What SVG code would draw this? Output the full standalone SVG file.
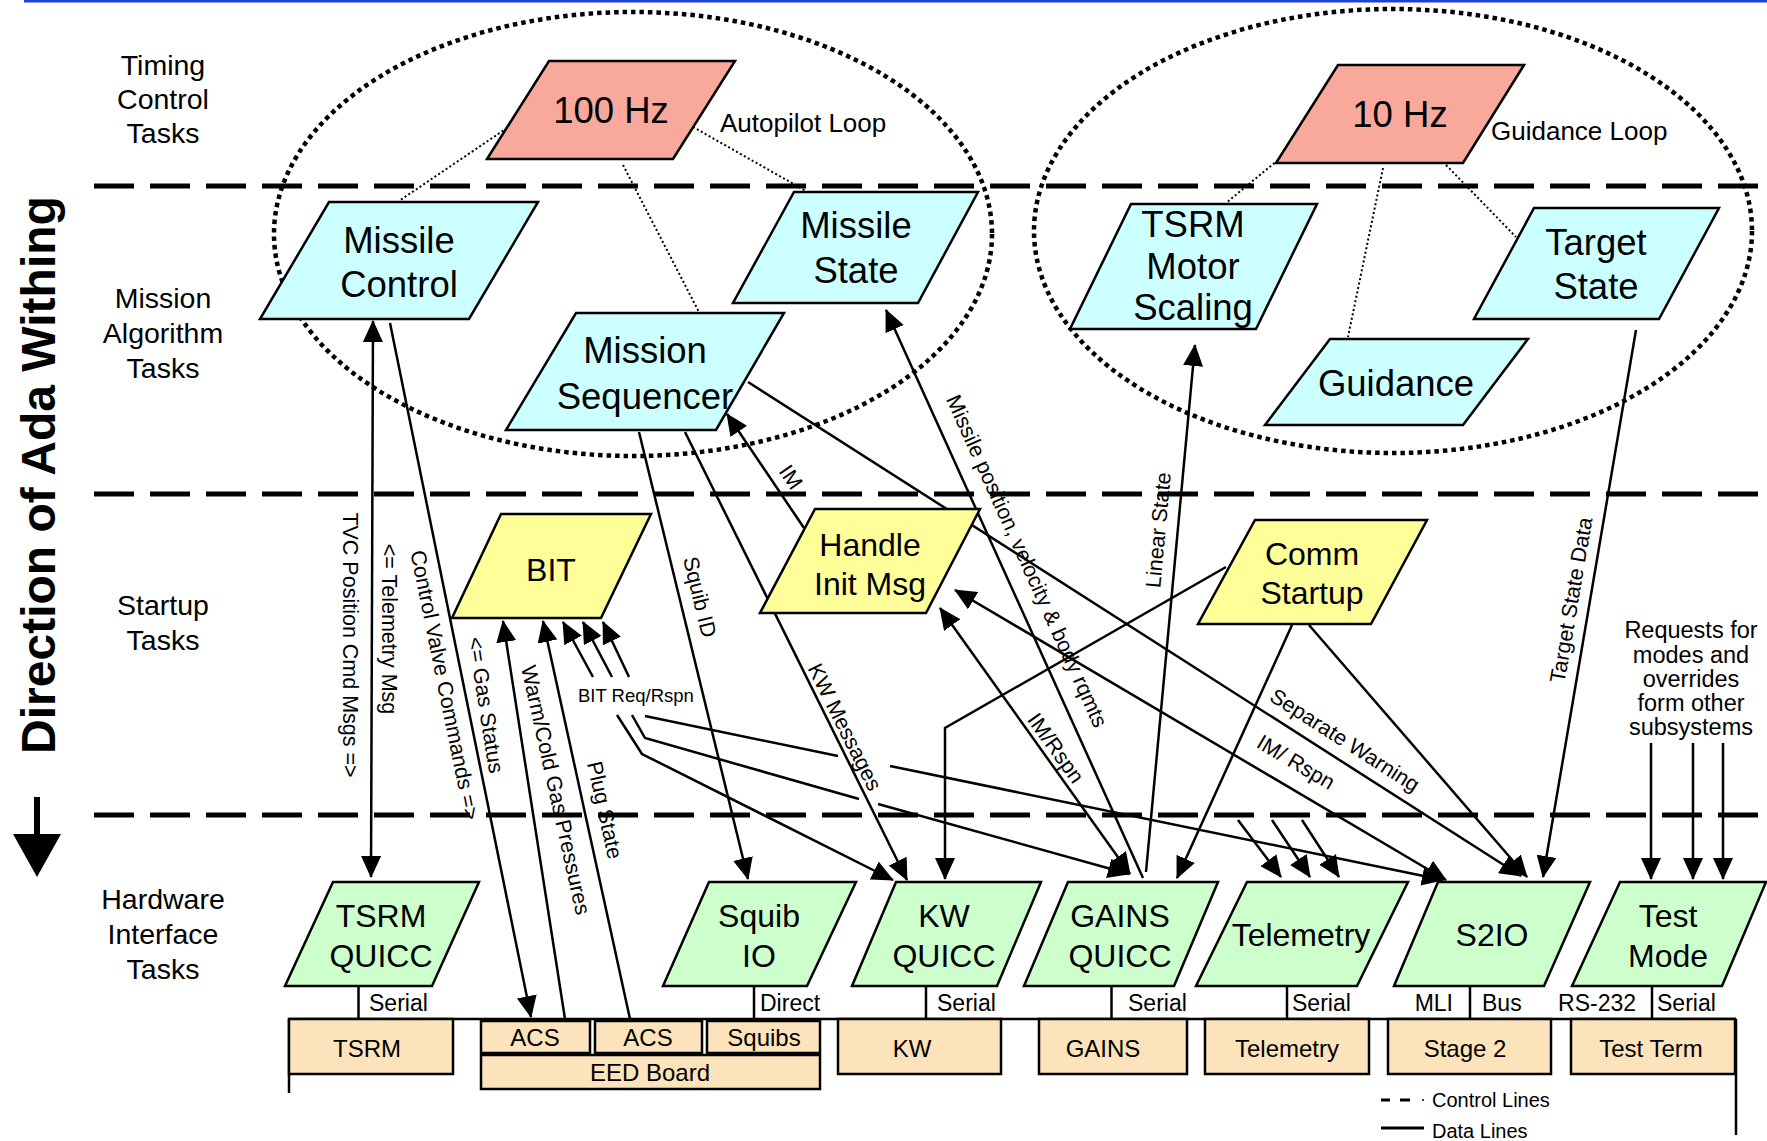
<svg xmlns="http://www.w3.org/2000/svg" width="1767" height="1141" viewBox="0 0 1767 1141">
  <defs>
    <style>
      text { font-family: "Liberation Sans", Arial, sans-serif; fill: #000; }
      .lane { stroke: #000; stroke-width: 5; stroke-dasharray: 40 16; fill: none; }
      .loop { fill: none; stroke: #000; stroke-width: 4.5; stroke-dasharray: 4.5 4; }
      .tick { fill: none; stroke: #000; stroke-width: 2; stroke-dasharray: 2 2.5; }
      .flow { fill: none; stroke: #000; stroke-width: 2.5; }
      .arr { marker-end: url(#head); }
      .both { marker-start: url(#head); marker-end: url(#head); }
      .shape { stroke: #000; stroke-width: 2.5; stroke-linejoin: miter; }
      .timing { fill: #F8A99B; }
      .algo { fill: #CCFFFF; }
      .startup { fill: #FFFF99; }
      .hw { fill: #CCFFCC; }
      .box { fill: #FCE3BB; stroke: #000; stroke-width: 2.5; }
      .big { font-size: 36.5px; text-anchor: middle; }
      .mid { font-size: 32px; text-anchor: middle; }
      .lbl { font-size: 28.5px; text-anchor: middle; }
      .sm { font-size: 24px; text-anchor: middle; }
      .port { font-size: 23px; }
      .msg { font-size: 21.5px; text-anchor: middle; }
      .loopname { font-size: 26px; }
      .legend { font-size: 20px; }
    </style>
    <marker id="head" markerUnits="userSpaceOnUse" viewBox="0 0 22 20" markerWidth="22" markerHeight="20" refX="21" refY="10" orient="auto-start-reverse">
      <path d="M0,0 L22,10 L0,20 z" fill="#000"/>
    </marker>
  </defs>

  <rect width="1767" height="1141" fill="#fff"/>
  <!-- title rule -->
  <line x1="24" y1="1" x2="1767" y2="1" stroke="#1E3FDC" stroke-width="3"/>

  <!-- layer separators -->
  <g id="lanes">
    <line class="lane" x1="94" y1="186" x2="1767" y2="186"/>
    <line class="lane" x1="94" y1="494" x2="1767" y2="494"/>
    <line class="lane" x1="94" y1="815" x2="1767" y2="815"/>
  </g>

  <!-- layer names -->
  <g id="layer-labels" class="lbl">
    <text x="163" y="75">Timing</text>
    <text x="163" y="109">Control</text>
    <text x="163" y="143">Tasks</text>
    <text x="163" y="308">Mission</text>
    <text x="163" y="343">Algorithm</text>
    <text x="163" y="378">Tasks</text>
    <text x="163" y="615">Startup</text>
    <text x="163" y="650">Tasks</text>
    <text x="163" y="909">Hardware</text>
    <text x="163" y="944">Interface</text>
    <text x="163" y="979">Tasks</text>
  </g>

  <g id="direction">
    <text transform="translate(38,475) rotate(-90)" dy="0.36em" font-size="48" font-weight="bold" text-anchor="middle">Direction of Ada Withing</text>
    <line x1="37" y1="797" x2="37" y2="838" stroke="#000" stroke-width="6"/>
    <polygon points="13,834 61,834 37,877" fill="#000"/>
  </g>

  <!-- rate group loops -->
  <g id="loops">
    <ellipse class="loop" cx="633" cy="234" rx="359" ry="222"/>
    <ellipse class="loop" cx="1393" cy="231" rx="359" ry="222"/>
    <text class="loopname" x="720" y="132">Autopilot Loop</text>
    <text class="loopname" x="1491" y="140">Guidance Loop</text>
  </g>

  <!-- timing links -->
  <g id="timing-links">
    <line class="tick" x1="507" y1="128" x2="399" y2="201"/>
    <line class="tick" x1="693" y1="127" x2="806" y2="191"/>
    <line class="tick" x1="623" y1="165" x2="699" y2="312"/>
    <line class="tick" x1="1278" y1="160" x2="1226" y2="203"/>
    <line class="tick" x1="1383" y1="168" x2="1348" y2="337"/>
    <line class="tick" x1="1446" y1="165" x2="1516" y2="237"/>
  </g>

  <!-- data flows -->
  <g id="connectors">
    <path id="c-tvc" class="flow both" d="M373,321 L371,877"/>
    <path id="c-valve" class="flow arr" d="M390,323 L531,1017"/>
    <path id="c-gas" class="flow arr" d="M565,1019 L503,621"/>
    <path id="c-warm" class="flow arr" d="M630,1019 L543,621"/>
    <path id="c-bit1" class="flow arr" d="M593,677 L563,622"/>
    <path id="c-bit2" class="flow arr" d="M612,677 L583,622"/>
    <path id="c-bit3" class="flow arr" d="M629,677 L603,622"/>
    <path id="c-bitkw" class="flow arr" d="M617,715 L642,754 L893,880"/>
    <path id="c-bitgains-a" class="flow" d="M632,715 L645,738 L859,799"/>
    <path id="c-bitgains-b" class="flow arr" d="M878,804 L1129,874"/>
    <path id="c-bits2io-a" class="flow" d="M645,716 L838,756"/>
    <path id="c-bits2io-b" class="flow arr" d="M890,766 L1443,880"/>
    <path id="c-squib" class="flow arr" d="M639,432 L748,879"/>
    <path id="c-kw" class="flow arr" d="M685,432 L907,880"/>
    <path id="c-im" class="flow arr" d="M804,528 L727,414"/>
    <path id="c-mstate" class="flow arr" d="M1143,878 L886,310"/>
    <path id="c-linear" class="flow arr" d="M1146,872 L1195,345"/>
    <path id="c-imgains" class="flow both" d="M940,608 L1130,874"/>
    <path id="c-ims2io" class="flow both" d="M955,590 L1446,880"/>
    <path id="c-warn" class="flow arr" d="M748,382 L1521,876"/>
    <path id="c-commkw" class="flow arr" d="M1226,567 L945,728 L945,879"/>
    <path id="c-commgains" class="flow arr" d="M1292,625 L1177,878"/>
    <path id="c-comms2io" class="flow arr" d="M1309,625 L1527,877"/>
    <path id="c-target" class="flow arr" d="M1636,330 L1543,877"/>
    <path id="c-tlm1" class="flow arr" d="M1238,820 L1281,877"/>
    <path id="c-tlm2" class="flow arr" d="M1272,820 L1310,877"/>
    <path id="c-tlm3" class="flow arr" d="M1302,820 L1339,877"/>
    <path id="c-req1" class="flow arr" d="M1651,743 L1651,879"/>
    <path id="c-req2" class="flow arr" d="M1693,743 L1693,879"/>
    <path id="c-req3" class="flow arr" d="M1723,743 L1723,879"/>
  </g>

  <!-- flow labels -->
  <g id="connector-labels" class="msg">
    <text transform="translate(351,645) rotate(90)" dy="0.35em">TVC Position Cmd Msgs =&gt;</text>
    <text transform="translate(390,629) rotate(90)" dy="0.35em">&lt;= Telemetry Msg</text>
    <text transform="translate(445,685) rotate(78.5)" dy="0.35em">Control Valve Commands =&gt;</text>
    <text transform="translate(486,705) rotate(81)" dy="0.35em">&lt;= Gas Status</text>
    <text transform="translate(556,790) rotate(77.5)" dy="0.35em">Warm/Cold Gas Pressures</text>
    <text transform="translate(605,810) rotate(77.5)" dy="0.35em">Plug State</text>
    <text transform="translate(700,597) rotate(76.3)" dy="0.35em">Squib ID</text>
    <text transform="translate(845,727) rotate(63.5)" dy="0.35em">KW Messages</text>
    <text transform="translate(791,477) rotate(56)" dy="0.35em">IM</text>
    <text transform="translate(1027,561) rotate(65.7)" dy="0.35em">Missile position, velocity &amp; body rqmts</text>
    <text transform="translate(1158,530) rotate(-84.7)" dy="0.35em">Linear State</text>
    <text transform="translate(1056,748) rotate(54.4)" dy="0.35em">IM/Rspn</text>
    <text transform="translate(1296,762) rotate(30.6)" dy="0.35em">IM/ Rspn</text>
    <text transform="translate(1345,740) rotate(32.6)" dy="0.35em">Separate Warning</text>
    <text transform="translate(1571,600) rotate(-80.3)" dy="0.35em">Target State Data</text>
    <text x="578" y="702" font-size="18.5" text-anchor="start">BIT Req/Rspn</text>
  </g>
  <g id="requests-note" font-size="23.5" text-anchor="middle">
    <text x="1691" y="638">Requests for</text>
    <text x="1691" y="663">modes and</text>
    <text x="1691" y="687">overrides</text>
    <text x="1691" y="711">form other</text>
    <text x="1691" y="735">subsystems</text>
  </g>

  <!-- timing control tasks -->
  <g id="n-100hz">
    <polygon class="shape timing" points="549,61 735,61 673,159 487,159"/>
    <text class="big" x="611" y="123" font-size="37">100 Hz</text>
  </g>
  <g id="n-10hz">
    <polygon class="shape timing" points="1338,65 1524,65 1463,163 1276,163"/>
    <text class="big" x="1400" y="127">10 Hz</text>
  </g>

  <!-- mission algorithm tasks -->
  <g id="n-missile-control">
    <polygon class="shape algo" points="329,202 538,202 469,319 260,319"/>
    <text class="big" x="399" y="253">Missile</text>
    <text class="big" x="399" y="297">Control</text>
  </g>
  <g id="n-missile-state">
    <polygon class="shape algo" points="794,192 978,192 918,303 733,303"/>
    <text class="big" x="856" y="238">Missile</text>
    <text class="big" x="856" y="283">State</text>
  </g>
  <g id="n-mission-sequencer">
    <polygon class="shape algo" points="576,313 784,313 716,430 506,430"/>
    <text class="big" x="645" y="363">Mission</text>
    <text class="big" x="645" y="409">Sequencer</text>
  </g>
  <g id="n-tsrm-motor-scaling">
    <polygon class="shape algo" points="1131,204 1317,204 1256,329 1070,329"/>
    <text class="big" x="1193" y="237">TSRM</text>
    <text class="big" x="1193" y="279">Motor</text>
    <text class="big" x="1193" y="320">Scaling</text>
  </g>
  <g id="n-target-state">
    <polygon class="shape algo" points="1534,208 1719,208 1659,319 1474,319"/>
    <text class="big" x="1596" y="255">Target</text>
    <text class="big" x="1596" y="299">State</text>
  </g>
  <g id="n-guidance">
    <polygon class="shape algo" points="1330,339 1528,339 1463,425 1265,425"/>
    <text class="big" x="1396" y="396">Guidance</text>
  </g>

  <!-- startup tasks -->
  <g id="n-bit">
    <polygon class="shape startup" points="501,514 651,514 601,618 452,618"/>
    <text class="mid" x="551" y="581" font-size="38">BIT</text>
  </g>
  <g id="n-handle-init-msg">
    <polygon class="shape startup" points="815,509 980,509 926,613 760,613"/>
    <text class="mid" x="870" y="556">Handle</text>
    <text class="mid" x="870" y="595">Init Msg</text>
  </g>
  <g id="n-comm-startup">
    <polygon class="shape startup" points="1255,520 1427,520 1371,624 1198,624"/>
    <text class="mid" x="1312" y="565">Comm</text>
    <text class="mid" x="1312" y="604">Startup</text>
  </g>

  <!-- hardware interface tasks -->
  <g id="n-tsrm-quicc">
    <polygon class="shape hw" points="333,882 479,882 432,986 285,986"/>
    <text class="mid" x="381" y="927">TSRM</text>
    <text class="mid" x="381" y="967">QUICC</text>
  </g>
  <g id="n-squib-io">
    <polygon class="shape hw" points="709,882 856,882 807,986 663,986"/>
    <text class="mid" x="759" y="927">Squib</text>
    <text class="mid" x="759" y="967">IO</text>
  </g>
  <g id="n-kw-quicc">
    <polygon class="shape hw" points="896,882 1041,882 997,986 852,986"/>
    <text class="mid" x="944" y="927">KW</text>
    <text class="mid" x="944" y="967">QUICC</text>
  </g>
  <g id="n-gains-quicc">
    <polygon class="shape hw" points="1068,882 1218,882 1174,986 1024,986"/>
    <text class="mid" x="1120" y="927">GAINS</text>
    <text class="mid" x="1120" y="967">QUICC</text>
  </g>
  <g id="n-telemetry">
    <polygon class="shape hw" points="1247,882 1408,882 1357,986 1196,986"/>
    <text class="mid" x="1301" y="946">Telemetry</text>
  </g>
  <g id="n-s2io">
    <polygon class="shape hw" points="1438,882 1590,882 1544,986 1394,986"/>
    <text class="mid" x="1492" y="946">S2IO</text>
  </g>
  <g id="n-test-mode">
    <polygon class="shape hw" points="1620,882 1766,882 1722,986 1572,986"/>
    <text class="mid" x="1668" y="927">Test</text>
    <text class="mid" x="1668" y="967">Mode</text>
  </g>

  <!-- physical interfaces -->
  <g id="bus">
    <line x1="289" y1="1019" x2="1736" y2="1019" stroke="#000" stroke-width="2.5"/>
    <line x1="289" y1="1019" x2="289" y2="1093" stroke="#000" stroke-width="2.5"/>
    <line x1="1736" y1="1019" x2="1736" y2="1135" stroke="#000" stroke-width="2.5"/>
    <g stroke="#000" stroke-width="2.5">
      <line x1="358.5" y1="986" x2="358.5" y2="1019"/>
      <line x1="754" y1="986" x2="754" y2="1019"/>
      <line x1="926" y1="986" x2="926" y2="1019"/>
      <line x1="1111.5" y1="986" x2="1111.5" y2="1019"/>
      <line x1="1287" y1="986" x2="1287" y2="1019"/>
      <line x1="1470" y1="986" x2="1470" y2="1019"/>
      <line x1="1652" y1="986" x2="1652" y2="1019"/>
    </g>
    <g class="port">
      <text x="369" y="1011">Serial</text>
      <text x="760" y="1011">Direct</text>
      <text x="937" y="1011">Serial</text>
      <text x="1128" y="1011">Serial</text>
      <text x="1292" y="1011">Serial</text>
      <text x="1453" y="1011" text-anchor="end">MLI</text>
      <text x="1482" y="1011">Bus</text>
      <text x="1636" y="1011" text-anchor="end">RS-232</text>
      <text x="1657" y="1011">Serial</text>
    </g>
  </g>

  <g id="hw-tsrm"><rect class="box" x="289" y="1019" width="164" height="55"/><text class="sm" x="367" y="1057">TSRM</text></g>
  <g id="hw-acs1"><rect class="box" x="481" y="1021" width="109" height="32"/><text class="sm" x="535" y="1046">ACS</text></g>
  <g id="hw-acs2"><rect class="box" x="595" y="1021" width="107" height="32"/><text class="sm" x="648" y="1046">ACS</text></g>
  <g id="hw-squibs"><rect class="box" x="707" y="1021" width="113" height="32"/><text class="sm" x="764" y="1046">Squibs</text></g>
  <g id="hw-eed"><rect class="box" x="481" y="1055" width="339" height="34"/><text class="sm" x="650" y="1081">EED Board</text></g>
  <g id="hw-kw"><rect class="box" x="838" y="1019" width="163" height="55"/><text class="sm" x="912" y="1057">KW</text></g>
  <g id="hw-gains"><rect class="box" x="1039" y="1019" width="148" height="55"/><text class="sm" x="1103" y="1057">GAINS</text></g>
  <g id="hw-telemetry"><rect class="box" x="1205" y="1019" width="164" height="55"/><text class="sm" x="1287" y="1057">Telemetry</text></g>
  <g id="hw-stage2"><rect class="box" x="1388" y="1019" width="163" height="55"/><text class="sm" x="1465" y="1057">Stage 2</text></g>
  <g id="hw-test-term"><rect class="box" x="1571" y="1019" width="164" height="55"/><text class="sm" x="1651" y="1057">Test Term</text></g>

  <!-- key -->
  <g id="legend">
    <g stroke="#000" stroke-width="3">
      <line x1="1381" y1="1100" x2="1390" y2="1100"/>
      <line x1="1400" y1="1100" x2="1410" y2="1100"/>
      <line x1="1422" y1="1100" x2="1424" y2="1100" stroke-width="1.5"/>
      <line x1="1381" y1="1128" x2="1424" y2="1128"/>
    </g>
    <text class="legend" x="1432" y="1107">Control Lines</text>
    <text class="legend" x="1432" y="1138">Data Lines</text>
  </g>
</svg>
